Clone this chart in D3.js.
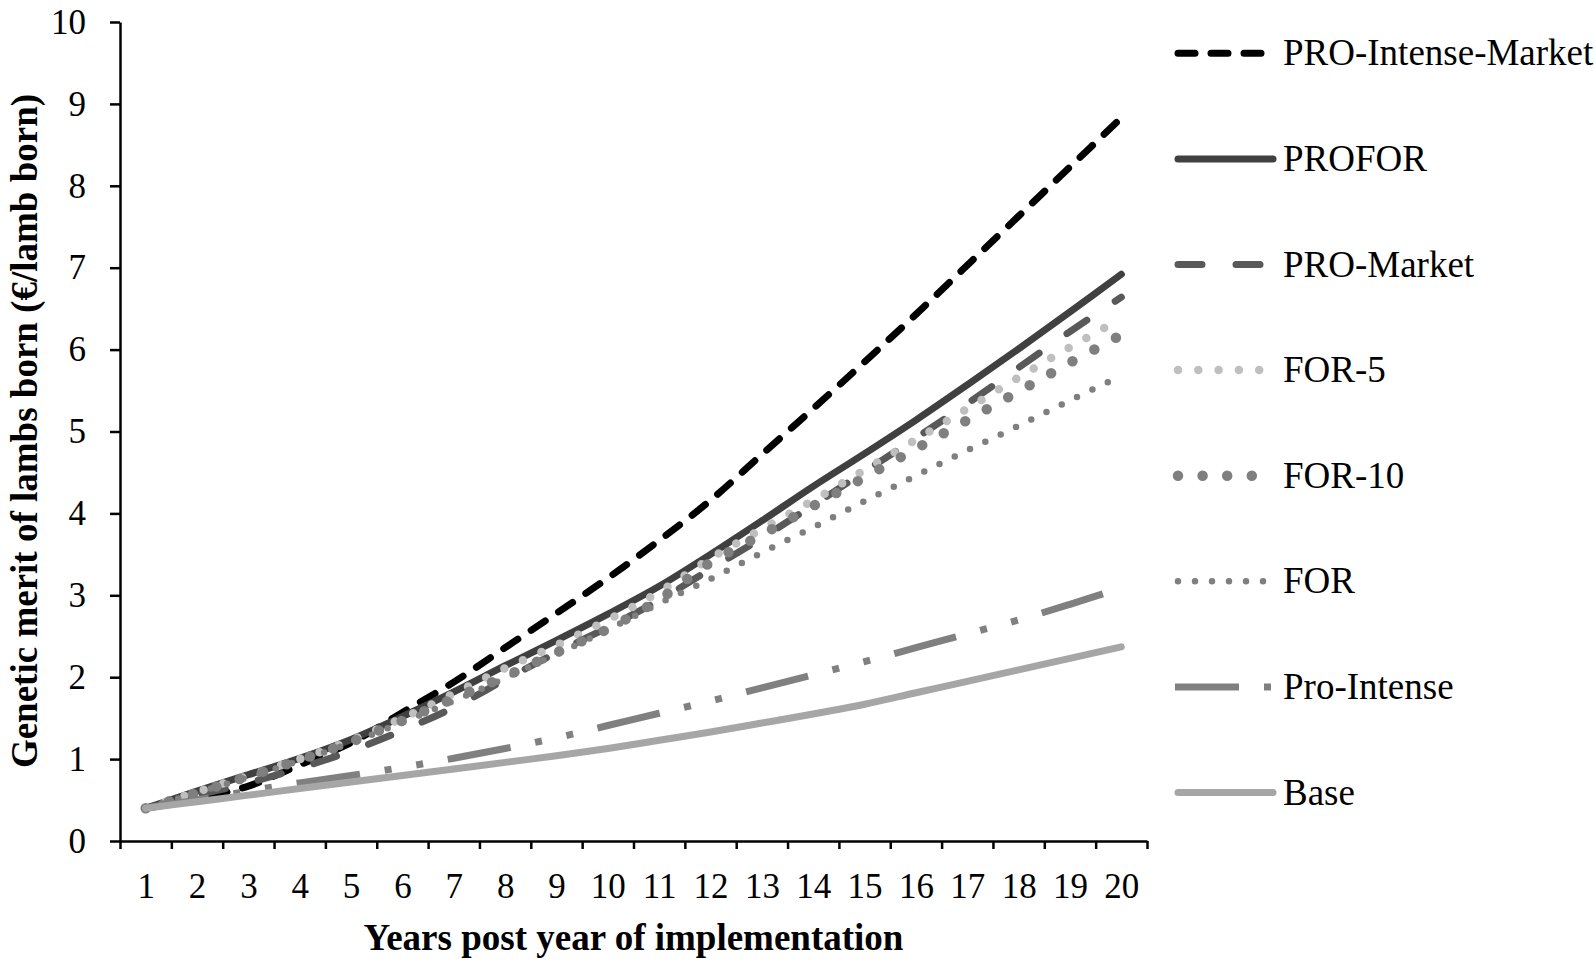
<!DOCTYPE html>
<html>
<head>
<meta charset="utf-8">
<script src="https://cdn.jsdelivr.net/npm/d3@7"></script>
<style>
  body { margin: 0; background: #fff; }
  text { font-family: "Liberation Serif", "Times New Roman", serif; }
</style>
</head>
<body>
<div id="container"></div>
<script>
// Data
const years = d3.range(1, 21);
const seriesNames = ["PRO-Intense-Market", "PROFOR", "PRO-Market", "FOR-5", "FOR-10", "FOR", "Pro-Intense", "Base"];

const proIntenseMarket = [0.40, 0.52, 0.67, 0.93, 1.20, 1.57, 1.94, 2.36, 2.78, 3.21, 3.67, 4.16, 4.72, 5.28, 5.85, 6.43, 7.03, 7.63, 8.23, 8.83];
const profor          = [0.40, 0.61, 0.81, 1.01, 1.24, 1.52, 1.82, 2.14, 2.45, 2.77, 3.11, 3.50, 3.91, 4.33, 4.73, 5.14, 5.57, 6.01, 6.46, 6.92];
const proMarket       = [0.40, 0.56, 0.71, 0.89, 1.10, 1.35, 1.63, 1.97, 2.30, 2.61, 2.94, 3.32, 3.70, 4.10, 4.51, 4.92, 5.34, 5.78, 6.22, 6.64];
const for5            = [0.40, 0.60, 0.80, 1.00, 1.23, 1.50, 1.80, 2.11, 2.39, 2.70, 3.04, 3.45, 3.81, 4.16, 4.53, 4.90, 5.28, 5.66, 6.03, 6.38];
const for10           = [0.40, 0.59, 0.79, 0.99, 1.21, 1.47, 1.74, 2.01, 2.30, 2.59, 2.95, 3.40, 3.74, 4.09, 4.44, 4.79, 5.14, 5.49, 5.84, 6.18];
const forOnly         = [0.40, 0.59, 0.78, 0.98, 1.20, 1.45, 1.71, 1.99, 2.28, 2.58, 2.90, 3.20, 3.52, 3.83, 4.15, 4.46, 4.77, 5.07, 5.38, 5.68];
const proIntense      = [0.40, 0.50, 0.61, 0.71, 0.80, 0.90, 1.01, 1.13, 1.26, 1.41, 1.56, 1.71, 1.87, 2.03, 2.19, 2.36, 2.53, 2.70, 2.89, 3.09];
const base            = [0.40, 0.48, 0.56, 0.64, 0.72, 0.80, 0.88, 0.96, 1.04, 1.13, 1.23, 1.33, 1.44, 1.55, 1.67, 1.81, 1.95, 2.09, 2.23, 2.37];

const seriesValues = [proIntenseMarket, profor, proMarket, for5, for10, forOnly, proIntense, base];
const yTicks = d3.range(0, 11);

// Line styles, same order as the series
const styles = [
  { color: "#000000", width: 7,   dash: "17 16",            cap: "round" },
  { color: "#404040", width: 7,   dash: null,               cap: "round" },
  { color: "#595959", width: 7,   dash: "24 34",            cap: "round" },
  { color: "#bfbfbf", width: 8.5, dash: "0 20.3",           cap: "round" },
  { color: "#7f7f7f", width: 10.5,dash: "0 24.6",           cap: "round" },
  { color: "#7f7f7f", width: 6.5, dash: "0 17",             cap: "round" },
  { color: "#808080", width: 7,   dash: "64 25 7 25 7 25",  cap: "butt"  },
  { color: "#a6a6a6", width: 7,   dash: null,               cap: "round" }
];

const width = 1594;
const height = 962;
const plotLeft = 120;
const plotRight = 1147;
const plotTop = 22;
const plotBottom = 841;

const x = d3.scaleLinear().domain([0.5, 20.5]).range([plotLeft, plotRight]);
const y = d3.scaleLinear().domain([0, 10]).range([plotBottom, plotTop]);

const svg = d3.create("svg")
    .attr("width", width)
    .attr("height", height)
    .attr("viewBox", [0, 0, width, height]);

svg.append("rect").attr("width", width).attr("height", height).attr("fill", "#fff");

// Series lines
const line = d3.line()
    .x((d, i) => x(years[i]))
    .y(d => y(d))
    .curve(d3.curveCatmullRom.alpha(0.5));

svg.append("g")
  .selectAll("path")
  .data(seriesValues)
  .join("path")
    .attr("d", d => line(d))
    .attr("fill", "none")
    .attr("stroke", (d, i) => styles[i].color)
    .attr("stroke-width", (d, i) => styles[i].width)
    .attr("stroke-dasharray", (d, i) => styles[i].dash)
    .attr("stroke-linecap", (d, i) => styles[i].cap)
    .attr("stroke-linejoin", "round");

// Y axis
const yAxis = svg.append("g")
    .attr("transform", `translate(${plotLeft},0)`)
    .call(d3.axisLeft(y).tickValues(yTicks).tickSize(10).tickSizeOuter(0).tickPadding(24));
yAxis.selectAll("path, line").attr("stroke", "#000").attr("stroke-width", 2.5);
yAxis.selectAll("text").attr("font-size", 35).attr("fill", "#000")
    .style("font-family", "'Liberation Serif', 'Times New Roman', serif");

// X axis: boundary ticks
const xTickAxis = svg.append("g")
    .attr("transform", `translate(0,${plotBottom})`)
    .call(d3.axisBottom(x).tickValues(d3.range(0.5, 21, 1)).tickSize(8).tickSizeOuter(0).tickFormat(""));
xTickAxis.selectAll("path, line").attr("stroke", "#000").attr("stroke-width", 2.5);

// X axis: category labels
const xLabelAxis = svg.append("g")
    .attr("transform", `translate(0,${plotBottom})`)
    .call(d3.axisBottom(x).tickValues(years).tickSize(0).tickPadding(32).tickFormat(d3.format("d")));
xLabelAxis.select(".domain").remove();
xLabelAxis.selectAll("text").attr("font-size", 35).attr("fill", "#000")
    .style("font-family", "'Liberation Serif', 'Times New Roman', serif");

// Axis titles
svg.append("text")
    .attr("x", (plotLeft + plotRight) / 2 + 0)
    .attr("y", 950)
    .attr("text-anchor", "middle")
    .attr("font-size", 37)
    .attr("font-weight", "bold")
    .text("Years post year of implementation");

svg.append("text")
    .attr("transform", "translate(36.5,431) rotate(-90)")
    .attr("text-anchor", "middle")
    .attr("font-size", 37)
    .attr("font-weight", "bold")
    .text("Genetic merit of lambs born (€/lamb born)");

// Legend
const legendX1 = 1178;
const legendX2 = 1273;
const legendTop = 53.3;
const legendStep = 105.6;

const legend = svg.append("g")
  .selectAll("g")
  .data(seriesNames)
  .join("g")
    .attr("transform", (d, i) => `translate(0,${legendTop + i * legendStep})`);

legend.append("line")
    .attr("x1", (d, i) => styles[i].cap === "butt" ? legendX1 - 3 : legendX1)
    .attr("x2", (d, i) => styles[i].cap === "butt" ? legendX2 + 3 : legendX2)
    .attr("stroke", (d, i) => styles[i].color)
    .attr("stroke-width", (d, i) => styles[i].width)
    .attr("stroke-dasharray", (d, i) => styles[i].dash)
    .attr("stroke-linecap", (d, i) => styles[i].cap);

legend.append("text")
    .attr("x", 1283)
    .attr("y", 12)
    .attr("font-size", 37)
    .attr("fill", "#000")
    .text(d => d);

d3.select("#container").append(() => svg.node());
</script>
</body>
</html>
